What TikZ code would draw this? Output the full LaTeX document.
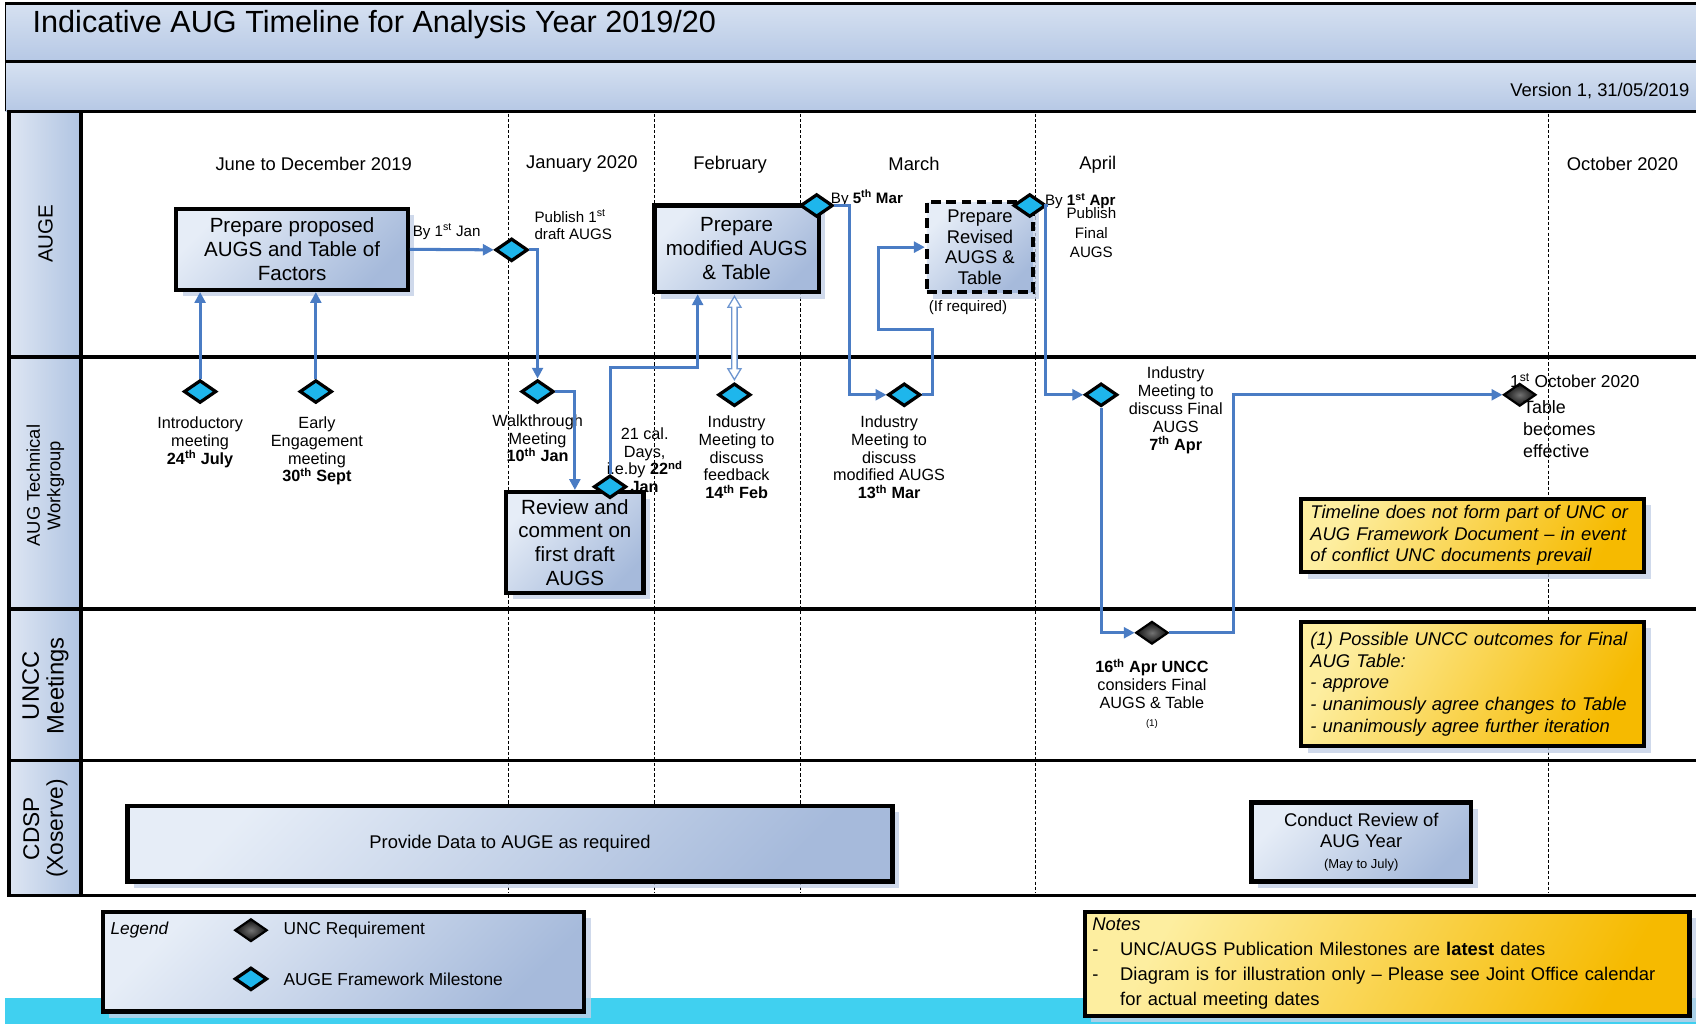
\documentclass[tikz,border=0pt]{standalone}
\usepackage{fontspec}
\setmainfont{Liberation Sans}
\usetikzlibrary{shapes.geometric,arrows.meta,shadows,calc}
\definecolor{augblue}{RGB}{74,124,196}
\definecolor{dcyan}{RGB}{30,182,236}
\definecolor{bandtop}{RGB}{214,225,241}
\definecolor{bandbot}{RGB}{182,200,229}
\definecolor{boxlight}{RGB}{230,237,247}
\definecolor{boxdark}{RGB}{166,186,219}
\definecolor{ylight}{RGB}{253,238,160}
\definecolor{ydark}{RGB}{246,186,0}
\definecolor{shadowc}{RGB}{196,208,230}
\definecolor{cyanband}{RGB}{64,208,240}
\definecolor{laneL}{RGB}{222,230,243}
\definecolor{laneR}{RGB}{176,196,226}
\begin{document}
\begin{tikzpicture}[x=1pt,y=-1pt,
  stepbox/.style={draw=black, line width=4pt, top color=boxlight, bottom color=boxdark, shading angle=45,
    align=center, inner sep=2pt, font=\fontsize{19}{22}\selectfont,
    drop shadow={shadow xshift=6pt,shadow yshift=-6pt,fill=shadowc,opacity=0.8}},
  ybox/.style={draw=black, line width=4pt, top color=ylight, bottom color=ydark, shading angle=60,
    align=left, inner sep=6pt, font=\itshape\fontsize{17}{20}\selectfont,
    drop shadow={shadow xshift=6pt,shadow yshift=-6pt,fill=shadowc,opacity=0.8}},
  cdia/.style={diamond, aspect=1.5, draw=black, line width=3pt, fill=dcyan, minimum width=30pt, minimum height=21pt, inner sep=0pt},
  bdia/.style={diamond, aspect=1.5, draw=black, line width=2pt, inner color=black!55, outer color=black!95, minimum width=30pt, minimum height=21pt, inner sep=0pt},
  arr/.style={draw=augblue, line width=2.8pt, -{Triangle[length=10pt,width=10pt]}},
  lbl/.style={font=\fontsize{15}{16.5}\selectfont, align=center, inner sep=0pt},
  month/.style={font=\fontsize{17}{20}\selectfont, inner sep=0pt},
  monthdash/.style={draw=black, line width=0.8pt, dash pattern=on 3pt off 2pt},
  lane/.style={line width=3.5pt, draw=black},
  lanelabel/.style={rotate=90, align=center, inner sep=0pt}
]
\useasboundingbox (0,0) rectangle (1568,947);
\clip (0,0) rectangle (1568,947);
\fill[white] (0,0) rectangle (1568,947);
% header bands
\shade[top color=bandtop, bottom color=bandbot] (5,3) rectangle (1575,57);
\shade[top color=bandtop, bottom color=bandbot] (5,57) rectangle (1575,103);
\draw[line width=2.5pt] (5,3) -- (1575,3);
\draw[line width=2.5pt] (5,57) -- (1575,57);
\draw[line width=1pt] (5,3) -- (5,103);
\node[anchor=west, font=\fontsize{28.3}{32}\selectfont, inner sep=0pt] (title) at (30,23) {Indicative AUG Timeline for Analysis Year 2019/20};
\node[anchor=east, font=\fontsize{17}{20}\selectfont, inner sep=0pt] (version) at (1562,84) {Version 1, 31/05/2019};
% bottom cyan band
\fill[cyanband] (5,923) rectangle (1575,947);
% lanes
\fill[white] (8,103) rectangle (1575,828);
\shade[left color=laneL, right color=laneR] (8,103) rectangle (75,828);
\foreach \xx in {470,605,740,957,1432} { \draw[monthdash] (\xx,105) -- (\xx,826); }
\draw[lane] (8,103) rectangle (1575,828);
\draw[lane] (75,103) -- (75,828);
\draw[lane] (8,330) -- (1575,330);
\draw[lane] (8,563) -- (1575,563);
\draw[lane] (8,703) -- (1575,703);
\node[lanelabel, font=\fontsize{19}{22}\selectfont] (lAUGE) at (42,216) {AUGE};
\node[lanelabel, font=\fontsize{17}{19}\selectfont] (lTW) at (42,449) {AUG Technical\\Workgroup};
\node[lanelabel, font=\fontsize{22}{23}\selectfont] (lUNCC) at (42,634) {UNCC\\Meetings};
\node[lanelabel, font=\fontsize{21}{22}\selectfont] (lCDSP) at (42,766) {CDSP\\(Xoserve)};
% months
\node[month] (mJun) at (290,152) {June to December 2019};
\node[month] (mJan) at (538,152) {January 2020};
\node[month] (mFeb) at (675,152) {February};
\node[month] (mMar) at (845,152) {March};
\node[month] (mApr) at (1015,152) {April};
\node[month] (mOct) at (1500,152) {October 2020};
% boxes
\node[stepbox, minimum width=214pt, minimum height=75pt] (propBox) at (270,230.5) {Prepare proposed\\AUGS and Table of\\Factors};
\node[stepbox, minimum width=152pt, minimum height=80pt] (modBox) at (681,230) {Prepare\\modified AUGS\\\& Table};
\node[stepbox, dash pattern=on 9pt off 5pt, minimum width=98pt, minimum height=83pt, font=\fontsize{17}{19}\selectfont] (revBox) at (906,228.5) {Prepare\\Revised\\AUGS \&\\Table};
\node[stepbox, minimum width=127pt, minimum height=93pt, font=\fontsize{19}{22}\selectfont] (revwBox) at (531.5,501.5) {Review and\\comment on\\first draft\\AUGS};
\node[stepbox, minimum width=707pt, minimum height=70pt, font=\fontsize{17}{20}\selectfont] (dataBox) at (471.5,780) {Provide Data to AUGE as required};
\node[stepbox, minimum width=203pt, minimum height=73pt, font=\fontsize{17}{20}\selectfont] (condBox) at (1258.5,778.5) {Conduct Review of\\AUG Year\\[-1pt]{\fontsize{12}{14}\selectfont (May to July)}};
\node[ybox, minimum width=317pt, minimum height=66pt, text width=300pt] (yNote1) at (1361.5,495) {Timeline does not form part of UNC or\\AUG Framework Document -- in event\\of conflict UNC documents prevail};
\node[ybox, minimum width=317pt, minimum height=115pt, text width=300pt] (yNote2) at (1361.5,632.5) {(1) Possible UNCC outcomes for Final\\AUG Table:\\- approve\\- unanimously agree changes to Table\\- unanimously agree further iteration};
% legend and notes
\node[stepbox, minimum width=445pt, minimum height=92pt] (legend) at (317.5,889) {};
\node[anchor=west, inner sep=0pt, font=\itshape\fontsize{16}{18}\selectfont] (legT) at (102,860) {Legend};
\node[bdia] (legB) at (232,860) {};
\node[anchor=west, inner sep=0pt, font=\fontsize{16}{18}\selectfont] (legBT) at (262,860) {UNC Requirement};
\node[cdia] (legC) at (232,905) {};
\node[anchor=west, inner sep=0pt, font=\fontsize{16}{18}\selectfont] (legCT) at (262,905) {AUGE Framework Milestone};
\node[ybox, font=\fontsize{17}{23}\selectfont, minimum width=559pt, minimum height=95pt, text width=545pt] (notes) at (1282.5,891)
 {\textit{Notes}\\-\hspace{20pt}UNC/AUGS Publication Milestones are \textbf{latest} dates\\-\hspace{20pt}Diagram is for illustration only -- Please see Joint Office calendar\\\phantom{-}\hspace{20pt}for actual meeting dates};
% diamonds
\node[cdia] (dJan) at (473,231) {};
\node[cdia] (dMar5) at (755,190) {};
\node[cdia] (dApr1) at (952,190) {};
\node[cdia] (dIntro) at (185,362) {};
\node[cdia] (dEarly) at (292,362) {};
\node[cdia] (dWalk) at (497,362) {};
\node[cdia] (dDays) at (564,450) {};
\node[cdia] (dFeb) at (679,365) {};
\node[cdia] (dMar13) at (836,365) {};
\node[cdia] (dApr7) at (1018,365) {};
\node[bdia] (dOct) at (1405,365) {};
\node[bdia] (dUNCC) at (1065,585) {};
% labels
\node[lbl, anchor=north] (tIntro) at (185,385) {Introductory\\meeting\\\textbf{24\textsuperscript{th} July}};
\node[lbl, anchor=north] (tEarly) at (293,385) {Early\\Engagement\\meeting\\\textbf{30\textsuperscript{th} Sept}};
\node[lbl, anchor=north] (tWalk) at (497,383) {Walkthrough\\Meeting\\\textbf{10\textsuperscript{th} Jan}};
\node[lbl, anchor=north] (tDays) at (596,395) {21 cal.\\Days,\\i.e.by \textbf{22\textsuperscript{nd}}\\\textbf{Jan}};
\node[lbl, anchor=north] (tFeb) at (681,384) {Industry\\Meeting to\\discuss\\feedback\\\textbf{14\textsuperscript{th} Feb}};
\node[lbl, anchor=north] (tMar) at (822,384) {Industry\\Meeting to\\discuss\\modified AUGS\\\textbf{13\textsuperscript{th} Mar}};
\node[lbl, anchor=north] (tApr) at (1087,339) {Industry\\Meeting to\\discuss Final\\AUGS\\\textbf{7\textsuperscript{th} Apr}};
\node[lbl, anchor=west, font=\fontsize{16}{18}\selectfont] (tOct1) at (1396,352) {1\textsuperscript{st} October 2020};
\node[lbl, anchor=north west, align=left, font=\fontsize{16.5}{20.5}\selectfont] (tOct2) at (1408,370) {Table\\becomes\\effective};
\node[lbl, anchor=north] (tUNCC) at (1065,609) {\textbf{16\textsuperscript{th} Apr UNCC}\\considers Final\\AUGS \& Table\\{\fontsize{9}{10}\selectfont (1)}};
\node[lbl, font=\fontsize{14}{16}\selectfont] (tByJan) at (413,214) {By 1\textsuperscript{st} Jan};
\node[lbl, font=\fontsize{14}{16}\selectfont, align=left, anchor=north west] (tPub1) at (494,194) {Publish 1\textsuperscript{st}\\draft AUGS};
\node[lbl, font=\fontsize{14}{16}\selectfont, anchor=west] (tMar5) at (768,183) {By \textbf{5\textsuperscript{th} Mar}};
\node[lbl, font=\fontsize{14}{16}\selectfont, anchor=west] (tApr1) at (966,186) {By \textbf{1\textsuperscript{st} Apr}};
\node[lbl, anchor=north, font=\fontsize{14}{18}\selectfont] (tPubF) at (1009,192) {Publish\\Final\\AUGS};
\node[lbl, font=\fontsize{14}{16}\selectfont] (tIfReq) at (895,284) {(If required)};
% connectors
\coordinate (c6) at (645,340);
\coordinate (c8) at (785,300);
\coordinate (c9a) at (862,305);
\coordinate (c9b) at (812,260);
\coordinate (c10) at (967,300);
\coordinate (c12) at (1140,450);
\draw[arr] (dIntro.north) -- (dIntro.north |- propBox.south);
\draw[arr] (dEarly.north) -- (dEarly.north |- propBox.south);
\draw[arr] (propBox.east) -- (dJan.west);
\draw[arr] (dJan.east) -| (dWalk.north);
\draw[arr] (dWalk.east) -| (revwBox.north);
\draw[arr] (dDays.north) |- (c6) -- (c6 |- modBox.south);
\draw[arr] (dMar5.east) -| (c8) |- (dMar13.west);
\draw[arr] (dMar13.east) -| (c9a) -| (c9b) |- (revBox.west);
\draw[arr] (dApr1.east) -| (c10) |- (dApr7.west);
\draw[arr] (dApr7.south) |- (dUNCC.west);
\draw[arr] (dUNCC.east) -| (c12) |- (dOct.west);
% hollow double arrow between modified box and February meeting
\coordinate (hT) at ($(modBox.south -| dFeb.north)+(0,2)$);
\coordinate (hB) at ($(dFeb.north)+(0,-2)$);
\draw[draw=augblue!80, fill=white, line width=1.2pt, line join=miter]
  (hT) -- ($(hT)+(-6,10)$) -- ($(hT)+(-2.5,10)$) -- ($(hB)+(-2.5,-10)$) -- ($(hB)+(-6,-10)$) -- (hB)
  -- ($(hB)+(6,-10)$) -- ($(hB)+(2.5,-10)$) -- ($(hT)+(2.5,10)$) -- ($(hT)+(6,10)$) -- cycle;
\end{tikzpicture}
\end{document}
